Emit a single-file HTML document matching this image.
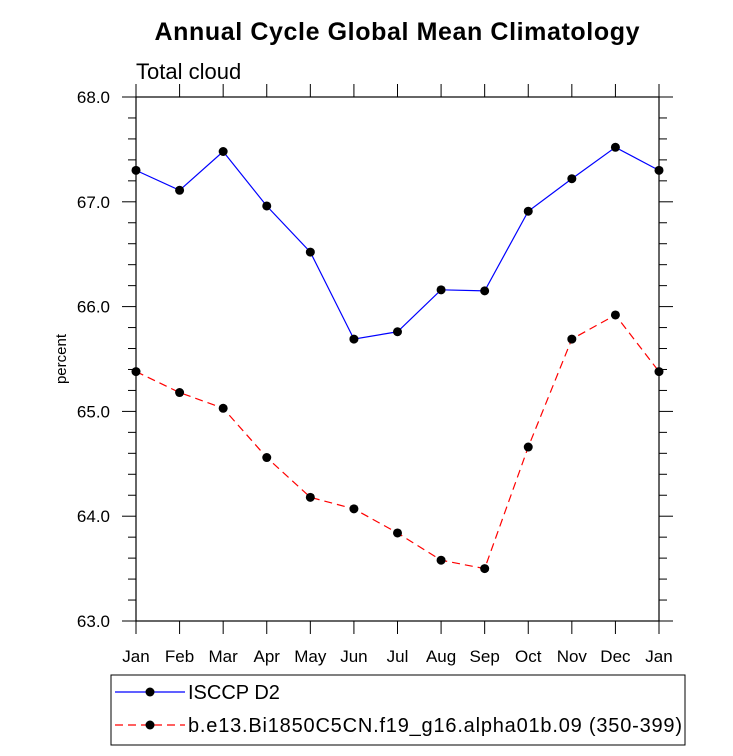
<!DOCTYPE html>
<html><head><meta charset="utf-8"><style>
body{margin:0;background:#fff;font-family:"Liberation Sans",sans-serif}
</style></head><body>
<svg id="chart" width="733" height="751" xmlns="http://www.w3.org/2000/svg" font-family="Liberation Sans, sans-serif">
<text x="397" y="40" text-anchor="middle" font-size="25" font-weight="bold" textLength="485">Annual Cycle Global Mean Climatology</text>
<text x="136" y="79" font-size="22">Total cloud</text>
<text x="66" y="359" font-size="15" text-anchor="middle" transform="rotate(-90 66 359)">percent</text>
<g id="axes"></g>
<g id="series"></g>
<g>
<rect x="111" y="675" width="574" height="70" fill="none" stroke="#000" stroke-width="1"/>
<line x1="115" y1="692" x2="185" y2="692" stroke="#00f" stroke-width="1.2"/>
<circle cx="150" cy="692" r="4.5" fill="#000"/>
<text x="188" y="699" font-size="20">ISCCP D2</text>
<line x1="115" y1="725" x2="185" y2="725" stroke="#f00" stroke-width="1.2" stroke-dasharray="8,5"/>
<circle cx="150" cy="725" r="4.5" fill="#000"/>
<text x="188" y="732" font-size="20" textLength="494">b.e13.Bi1850C5CN.f19_g16.alpha01b.09 (350-399)</text>
</g>
</svg>
<script>
const months = ["Jan","Feb","Mar","Apr","May","Jun","Jul","Aug","Sep","Oct","Nov","Dec","Jan"];
const isccp = [67.30,67.11,67.48,66.96,66.52,65.69,65.76,66.16,66.15,66.91,67.22,67.52,67.30];
const model = [65.38,65.18,65.03,64.56,64.18,64.07,63.84,63.58,63.50,64.66,65.69,65.92,65.38];
const yTicks = [63,64,65,66,67,68];
const yTickLabels = ["63.0","64.0","65.0","66.0","67.0","68.0"];
const L=136,R=659,T=97,B=621,ymin=63,ymax=68;
const xs=i=>L+(R-L)*i/(months.length-1);
const ys=v=>B-(B-T)*(v-ymin)/(ymax-ymin);
const NS="http://www.w3.org/2000/svg";
const ax=document.getElementById('axes'), se=document.getElementById('series');
function mk(tag,at,p){const e=document.createElementNS(NS,tag);for(const k in at)e.setAttribute(k,at[k]);p.appendChild(e);return e;}
const frame=mk('rect',{x:L,y:T,width:R-L,height:B-T,fill:'none',stroke:'#000','stroke-width':1.2},ax);


yTicks.forEach((v,i)=>{
  const y=ys(v);
  mk('line',{x1:L,y1:y,x2:L-14,y2:y,stroke:'#000'},ax);
  mk('line',{x1:R,y1:y,x2:R+14,y2:y,stroke:'#000'},ax);
  const t=mk('text',{x:110,y:y+6,'text-anchor':'end','font-size':17},ax);
  t.textContent=yTickLabels[i];
  
  
  if(i<yTicks.length-1)for(let m=1;m<5;m++){const yy=ys(v+m*0.2);
    mk('line',{x1:L,y1:yy,x2:L-8,y2:yy,stroke:'#000'},ax);
    mk('line',{x1:R,y1:yy,x2:R+8,y2:yy,stroke:'#000'},ax);}
});
months.forEach((m,i)=>{
  const x=xs(i);
  mk('line',{x1:x,y1:B,x2:x,y2:B+13,stroke:'#000'},ax);
  mk('line',{x1:x,y1:T,x2:x,y2:T-13,stroke:'#000'},ax);
  const t=mk('text',{x:x,y:662,'text-anchor':'middle','font-size':17},ax);
  t.textContent=m;
  
  
});
function draw(arr,color,dash,name){
  const pl=mk('polyline',{points:arr.map((v,i)=>xs(i)+','+ys(v)).join(' '),fill:'none',stroke:color,'stroke-width':1.2,'stroke-dasharray':dash},se);
  
  
  arr.forEach((v,i)=>{const c=mk('circle',{cx:xs(i),cy:ys(v),r:4.5,fill:'#000'},se);
    
    });
}
draw(isccp,'#00f','none','isccp');
draw(model,'#f00','8,5','model');
</script>
</body></html>
